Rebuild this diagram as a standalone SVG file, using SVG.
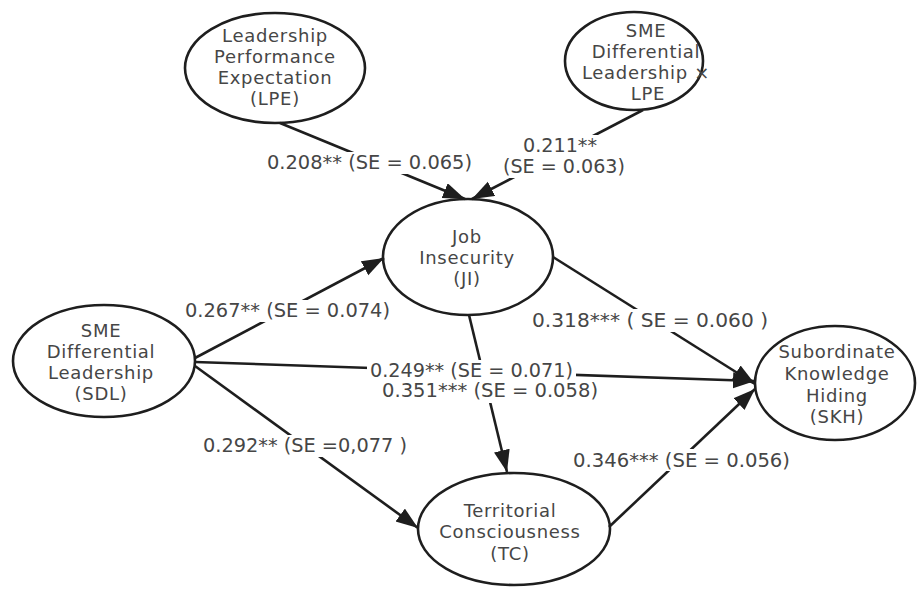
<svg xmlns="http://www.w3.org/2000/svg" width="917" height="590" viewBox="0 0 917 590">
<style>
.node ellipse{fill:#fff;stroke:#1e1e1e;stroke-width:2.6}
.node text{font-family:"DejaVu Sans",sans-serif;font-size:18px;letter-spacing:0.7px;fill:#464646;text-anchor:middle}
.edge{stroke:#1e1e1e;stroke-width:2.6;fill:none;marker-end:url(#arr)}
.lbl rect{fill:#fff}
.lbl text{font-family:"DejaVu Sans",sans-serif;font-size:19px;fill:#464646}
</style>
<defs>
<marker id="arr" markerUnits="userSpaceOnUse" markerWidth="24" markerHeight="18" refX="22" refY="8" orient="auto">
<path d="M0,0 L22,8 L0,16 Z" fill="#1e1e1e"/>
</marker>
</defs>
<rect width="917" height="590" fill="#fff"/>
<g id="LPE" class="node">
<ellipse cx="275" cy="68" rx="90" ry="55"/>
<text x="275" y="42">Leadership</text>
<text x="275" y="63">Performance</text>
<text x="275" y="84">Expectation</text>
<text x="275" y="105">(LPE)</text>
</g>
<g id="SDLxLPE" class="node">
<ellipse cx="634" cy="61" rx="69" ry="49"/>
<text x="646" y="37">SME</text>
<text x="646" y="58">Differential</text>
<text x="646" y="79">Leadership ×</text>
<text x="648" y="100">LPE</text>
</g>
<g id="JI" class="node">
<ellipse cx="468" cy="257" rx="85" ry="58"/>
<text x="467" y="243">Job</text>
<text x="467" y="264">Insecurity</text>
<text x="467" y="285">(JI)</text>
</g>
<g id="SDL" class="node">
<ellipse cx="104" cy="361" rx="91" ry="56"/>
<text x="101" y="337">SME</text>
<text x="101" y="358">Differential</text>
<text x="101" y="379">Leadership</text>
<text x="101" y="400">(SDL)</text>
</g>
<g id="SKH" class="node">
<ellipse cx="835" cy="383" rx="80" ry="57"/>
<text x="837" y="358">Subordinate</text>
<text x="837" y="380">Knowledge</text>
<text x="837" y="402">Hiding</text>
<text x="837" y="423">(SKH)</text>
</g>
<g id="TC" class="node">
<ellipse cx="514" cy="529" rx="96" ry="56"/>
<text x="510" y="517">Territorial</text>
<text x="510" y="538">Consciousness</text>
<text x="510" y="560">(TC)</text>
</g>
<g id="connectors">
<line class="edge" x1="280" y1="123" x2="465" y2="199"/>
<line class="edge" x1="643" y1="110" x2="472" y2="199"/>
<line class="edge" x1="195" y1="358" x2="384" y2="258"/>
<line class="edge" x1="195" y1="362" x2="755" y2="381"/>
<line class="edge" x1="195" y1="366" x2="418" y2="528"/>
<line class="edge" x1="553" y1="257" x2="755" y2="384"/>
<line class="edge" x1="469" y1="315" x2="507" y2="472"/>
<line class="edge" x1="609" y1="527" x2="755" y2="389"/>
</g>
<g id="labels" class="lbl">
<rect x="264" y="152" width="211" height="22"/>
<text x="267" y="169" textLength="205" lengthAdjust="spacingAndGlyphs">0.208** (SE = 0.065)</text>
<rect x="500" y="135" width="128" height="43"/>
<text x="523" y="152" textLength="74" lengthAdjust="spacingAndGlyphs">0.211**</text>
<text x="503" y="173" textLength="122" lengthAdjust="spacingAndGlyphs">(SE = 0.063)</text>
<rect x="182" y="300" width="211" height="22"/>
<text x="185" y="317" textLength="205" lengthAdjust="spacingAndGlyphs">0.267** (SE = 0.074)</text>
<rect x="367" y="360" width="209" height="22"/>
<text x="370" y="377" textLength="203" lengthAdjust="spacingAndGlyphs">0.249** (SE = 0.071)</text>
<rect x="379" y="382" width="222" height="21"/>
<text x="382" y="397" textLength="216" lengthAdjust="spacingAndGlyphs">0.351*** (SE = 0.058)</text>
<rect x="200" y="435" width="210" height="22"/>
<text x="203" y="452" textLength="204" lengthAdjust="spacingAndGlyphs">0.292** (SE =0,077 )</text>
<rect x="570" y="449" width="223" height="22"/>
<text x="573" y="467" textLength="217" lengthAdjust="spacingAndGlyphs">0.346*** (SE = 0.056)</text>
<rect x="529" y="309" width="242" height="23"/>
<text x="532" y="327" textLength="236" lengthAdjust="spacingAndGlyphs">0.318***  ( SE = 0.060 )</text>
</g>
</svg>
